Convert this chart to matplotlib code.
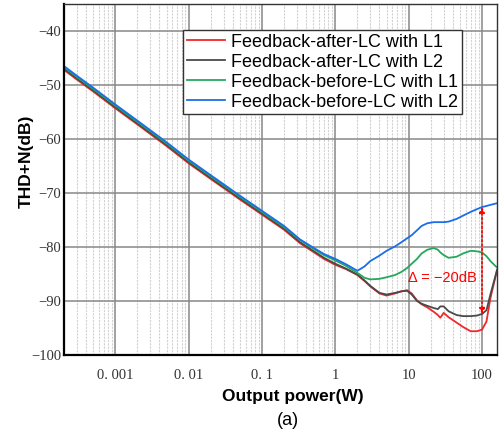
import numpy as np
import matplotlib
matplotlib.use("Agg")
import matplotlib.pyplot as plt
from matplotlib.ticker import FixedLocator, LogLocator, NullFormatter

# output power (W)
power = [0.0002, 0.0003, 0.0005, 0.001, 0.002, 0.005, 0.01, 0.02, 0.05, 0.1,
         0.2, 0.33, 0.5, 0.7, 1.0, 1.4, 2.0, 2.5, 3.0, 4.0,
         5.0, 6.5, 8.0, 9.5, 11, 13, 15, 18, 22, 25,
         27, 30, 35, 45, 55, 70, 85, 100, 115, 130, 160]

# THD+N (dB)
after_L1 = [-47.2, -49.0, -51.2, -54.3, -57.3, -61.3, -64.5, -67.4, -71.2, -74.0,
            -76.8, -79.3, -80.9, -82.2, -83.3, -84.1, -85.2, -86.3, -87.3, -88.6,
            -89.0, -88.6, -88.2, -88.0, -88.6, -89.9, -90.6, -91.2, -92.0, -92.6,
            -93.1, -92.2, -93.0, -94.0, -94.8, -95.6, -95.6, -95.3, -93.8, -89.5, -84.3]
after_L2 = [-47.0, -48.8, -51.0, -54.1, -57.1, -61.1, -64.3, -67.2, -71.0, -73.8,
            -76.6, -79.1, -80.7, -82.0, -83.1, -84.0, -85.1, -86.2, -87.2, -88.5,
            -88.8, -88.5, -88.2, -88.1, -88.8, -90.0, -90.5, -90.9, -91.3, -91.5,
            -91.0, -91.0, -91.9, -92.6, -92.8, -92.8, -92.7, -92.4, -91.7, -88.8, -84.3]
before_L1 = [-46.7, -48.5, -50.7, -53.8, -56.8, -60.8, -64.0, -66.9, -70.7, -73.5,
             -76.3, -78.7, -80.3, -81.5, -82.5, -83.5, -84.8, -85.7, -86.0, -85.9,
             -85.6, -85.2, -84.6, -83.9, -83.1, -82.2, -81.2, -80.5, -80.2, -80.5,
             -81.0, -81.5, -82.0, -81.8, -81.2, -80.7, -80.8, -81.0, -81.7, -82.6, -83.8]
before_L2 = [-46.5, -48.3, -50.5, -53.6, -56.6, -60.6, -63.8, -66.7, -70.5, -73.3,
             -76.1, -78.6, -80.1, -81.3, -82.2, -83.2, -84.4, -83.6, -82.6, -81.6,
             -80.7, -79.9, -79.1, -78.4, -77.8, -76.9, -76.1, -75.6, -75.4, -75.4,
             -75.4, -75.4, -75.3, -74.8, -74.2, -73.5, -73.0, -72.6, -72.4, -72.2, -71.9]

labels = ["Feedback-after-LC with L1", "Feedback-after-LC with L2",
          "Feedback-before-LC with L1", "Feedback-before-LC with L2"]
colors = ["#f02828", "#4a4a4a", "#25a85a", "#1a6ee8"]

xticks = [0.001, 0.01, 0.1, 1, 10, 100]
xticklabels = ["0. 001", "0. 01", "0. 1", "1", "10", "100"]
yticks = [-100, -90, -80, -70, -60, -50, -40]
yticklabels = ["\u2212100", "\u221290", "\u221280", "\u221270", "\u221260", "\u221250", "\u221240"]

plt.rcParams['font.family'] = ['Liberation Sans', 'DejaVu Sans']

fig = plt.figure(figsize=(5.04, 4.40), dpi=100)
ax = fig.add_axes([64 / 504, 85 / 440, 433 / 504, 351 / 440])

for y, lab, c in zip([after_L1, after_L2, before_L1, before_L2], labels, colors):
    ax.plot(power, y, color=c, lw=1.3, label=lab)

ax.set_xscale('log')
ax.set_xlim(0.0002, 160)
ax.set_ylim(-100, -35)

ax.xaxis.set_major_locator(FixedLocator(xticks))
ax.set_xticklabels(xticklabels)
ax.xaxis.set_minor_locator(LogLocator(base=10, subs=np.arange(2, 10)))
ax.xaxis.set_minor_formatter(NullFormatter())
ax.set_yticks(yticks)
ax.set_yticklabels(yticklabels)
ax.tick_params(which='both', length=0)
ax.tick_params(axis='x', pad=10)
ax.tick_params(axis='y', pad=2)
for t in ax.get_xticklabels() + ax.get_yticklabels():
    t.set_family('Liberation Serif')
    t.set_fontsize(10.5)
    t.set_color('#333333')

ax.grid(True, which='major', color='#888888', lw=1.1)
ax.grid(True, which='minor', axis='x', color='#d2d2d2', lw=0.8, ls=(0, (2, 1)))
ax.set_axisbelow(True)

for s in ['left', 'bottom']:
    ax.spines[s].set_linewidth(1.6)
    ax.spines[s].set_color('black')
for s in ['top', 'right']:
    ax.spines[s].set_linewidth(1.0)
    ax.spines[s].set_color('#333333')

ax.set_xlabel("Output power(W)", fontsize=12.5, fontweight='bold', va='center')
ax.xaxis.set_label_coords(0.529, -0.117)
ax.set_ylabel("THD+N(dB)", fontsize=12.5, fontweight='bold', va='center', ha='center')
ax.yaxis.set_label_coords(-0.088, 0.553)

leg = ax.legend(loc='upper right', bbox_to_anchor=(0.919, 0.926), borderaxespad=0,
                fontsize=13, fancybox=False, framealpha=1, edgecolor='#333333',
                handlelength=2.1, handletextpad=0.35, labelspacing=0.17,
                borderpad=0.2)
leg.get_frame().set_linewidth(1.0)

# delta arrow at 100 W between blue and black curves
i = power.index(100)
ax.annotate('', xy=(power[i], after_L2[i]), xytext=(power[i], before_L2[i]),
            arrowprops=dict(arrowstyle='<|-|>', color='red', lw=1.2, ls=':',
                            shrinkA=0, shrinkB=0, mutation_scale=8))
ax.text(28.6, -85.7, "\u0394 = \u221220dB", color='red', fontsize=10.5,
        ha='center', va='center')

fig.text(288 / 504, 1 - 420 / 440, "(a)", fontsize=13, ha='center', va='center')

fig.savefig("out.png", dpi=100)
